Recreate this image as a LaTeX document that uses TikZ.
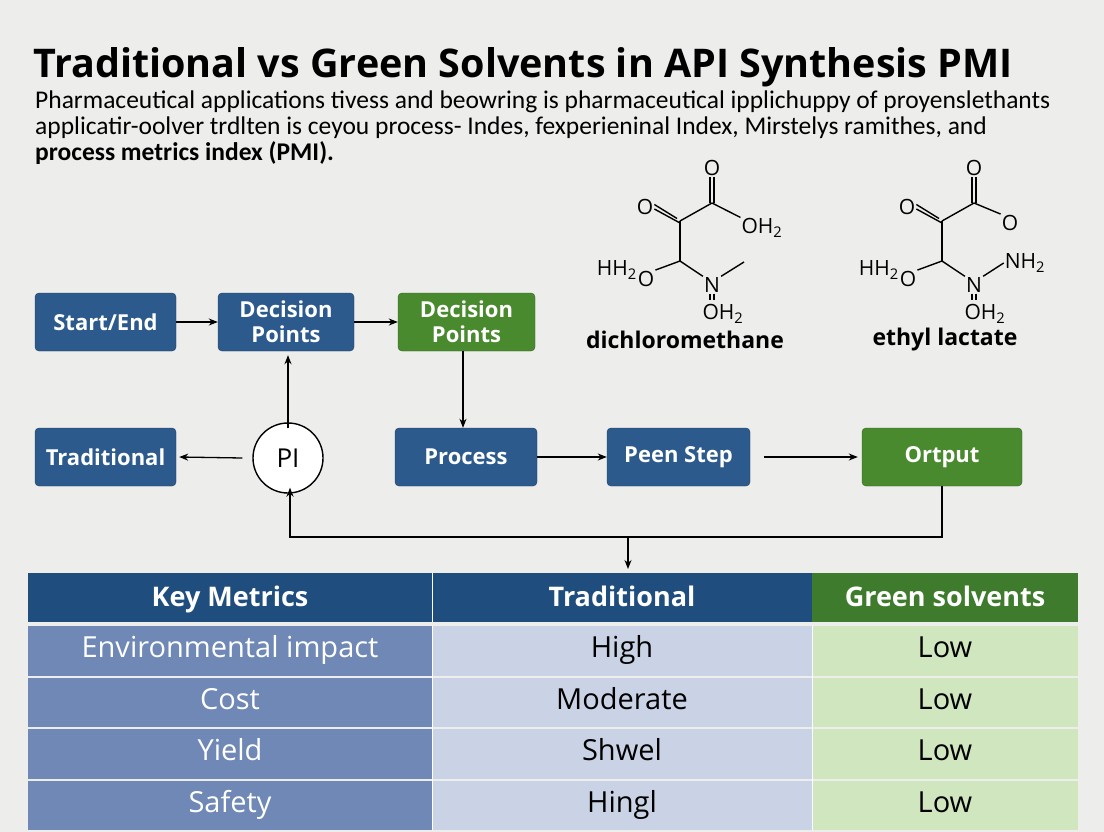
\documentclass[tikz,border=0pt]{standalone}
\usepackage{fontspec}
\setmainfont{Open Sans}
\newfontfamily\subf{Carlito}
\usetikzlibrary{arrows.meta}
\definecolor{bg}{HTML}{EDEDEC}
\definecolor{nblue}{HTML}{2C5A8C}
\definecolor{ngreen}{HTML}{4A8A2E}
\definecolor{hblue}{HTML}{1F4E7E}
\definecolor{hgreen}{HTML}{3E7B2C}
\definecolor{c1}{HTML}{6F88B6}
\definecolor{c2}{HTML}{CAD3E6}
\definecolor{c3}{HTML}{D0E6BF}
\tikzset{
  box/.style={draw=nblue!70!black,fill=nblue,rounded corners=4pt,text=white,font=\fontsize{22}{25}\selectfont\bfseries,align=center,minimum height=58pt,inner sep=2pt},
  gbox/.style={box,fill=ngreen,draw=ngreen!70!black},
  arr/.style={-{Stealth[length=9pt,width=7pt]},line width=1.3pt},
  bond/.style={line width=1.4pt},
  atom/.style={font=\fontsize{21}{22}\selectfont,inner sep=1pt},
  cell/.style={font=\fontsize{29}{30}\selectfont,text height=20pt,text depth=7pt},
  hcell/.style={cell,font=\fontsize{27}{30}\selectfont\bfseries,text=white},
}
\begin{document}
\begin{tikzpicture}[x=1pt,y=-1pt]
\fill[bg] (0,0) rectangle (1104,832);
\useasboundingbox (0,0) rectangle (1104,832);
\node[anchor=base west,inner sep=0,font=\fontsize{39.5}{40}\selectfont\bfseries] (title) at (33,78) {Traditional vs Green Solvents in API Synthesis PMI};
\node[anchor=base west,inner sep=0,font=\subf\fontsize{25.5}{26}\selectfont] (s1) at (35,109) {Pharmaceutical applications tivess and beowring is pharmaceutical ipplichuppy of proyenslethants};
\node[anchor=base west,inner sep=0,font=\subf\fontsize{25.5}{26}\selectfont] (s2) at (35,135) {applicatir-oolver trdlten is ceyou process- Indes, fexperieninal Index, Mirstelys ramithes, and};
\node[anchor=base west,inner sep=0,font=\subf\fontsize{25.5}{26}\selectfont\bfseries] (s3) at (35,161) {process metrics index (PMI).};
% flow nodes
\node[box,minimum width=141pt] (se) at (105.5,322) {Start/End};
\node[box,minimum width=136pt] (dp1) at (286,322) {Decision\\Points};
\node[gbox,minimum width=137pt] (dp2) at (466.5,322) {Decision\\Points};
\node[box,minimum width=141pt] (trad) at (105.5,457) {Traditional};
\node[draw,circle,line width=1.4pt,minimum size=70pt,font=\fontsize{26}{26}\selectfont,fill=white] (pi) at (288,458) {PI};
\node[box,minimum width=142pt] (proc) at (466,457) {Process};
\node[box,minimum width=143pt] (peen) at (678.5,457) {Peen Step};
\node[gbox,minimum width=160pt] (out) at (942,457) {Ortput};
\draw[arr] (se) -- (dp1);
\draw[arr] (dp1) -- (dp2);
\draw[arr] (dp2.south -| 463,0) -- (proc.north -| 463,0);
\draw[arr] ([yshift=-6pt]pi.north) -- ([yshift=-4pt]dp1.south -| pi);
\draw[arr] ([xshift=-10pt]pi.west) -- ([xshift=3pt]trad.east);
\draw[arr] (proc) -- (peen);
\draw[arr] ([xshift=14pt]peen.east) -- ([xshift=-4pt]out.west);
\coordinate (fb1) at (942,537);
\coordinate (fb2) at (290,537);
\draw[arr] (out.south) -- (fb1) -- (fb2) -- ([yshift=6pt]pi.south -| fb2);
\coordinate (ta) at (628,537);
\coordinate (tb) at (628,569);
\draw[arr] (ta) -- (tb);
% molecules
\foreach \dx/\nm in {0/a,262/b}{
\begin{scope}[xshift=\dx pt]
\node[atom] (Ot\nm) at (712,168) {O};
\node[atom] (Ol\nm) at (645,207) {O};
\coordinate (C2\nm) at (712,203);
\coordinate (C1\nm) at (680,221);
\coordinate (C3\nm) at (680,261);
\node[atom] (Ob\nm) at (646,279) {O};
\node[atom,anchor=east,inner sep=0] (H\nm) at (637,270) {HH\textsubscript{2}};
\node[atom] (N\nm) at (712,285) {N};
\node[atom] (On\nm) at (723,314) {OH\textsubscript{2}};
\draw[bond] ([xshift=-2pt]Ot\nm.south) -- ([xshift=-2pt]C2\nm);
\draw[bond] ([xshift=2pt]Ot\nm.south) -- ([xshift=2pt]C2\nm);
\draw[bond] (C2\nm) -- (C1\nm);
\draw[bond] ([yshift=-2pt]Ol\nm.east) -- ([yshift=-2pt]C1\nm);
\draw[bond] ([yshift=2.5pt]Ol\nm.east) -- ([yshift=2.5pt,xshift=-3pt]C1\nm);
\draw[bond] (C1\nm) -- (C3\nm);
\draw[bond] (C3\nm) -- (Ob\nm.north east);
\draw[bond] (C3\nm) -- (N\nm.north west);
\draw[bond] ([xshift=-2pt]N\nm.south) -- ([xshift=-2pt,yshift=3pt]N\nm.south |- On\nm.north);
\draw[bond] ([xshift=2pt]N\nm.south) -- ([xshift=2pt,yshift=3pt]N\nm.south |- On\nm.north);
\end{scope}}
\node[atom] (OHa) at (762,228) {OH\textsubscript{2}};
\draw[bond] (C2a) -- (OHa.north west);
\coordinate (me) at (744,262);
\draw[bond] (Na.north east) -- (me);
\node[atom] (Orb) at (1010,223) {O};
\draw[bond] (C2b) -- (Orb.north west);
\node[atom] (NHb) at (1025,263) {NH\textsubscript{2}};
\draw[bond] (Nb.north east) -- (NHb.west);
\node[font=\fontsize{23}{24}\selectfont\bfseries] (n1) at (685,340) {dichloromethane};
\node[font=\fontsize{23}{24}\selectfont\bfseries] (n2) at (945,340) {ethyl lactate};
% table
\fill[hblue] (28,573) rectangle (812,622);
\fill[hgreen] (812,573) rectangle (1078,622);
\draw[white,line width=1pt] (432,573) -- (432,622);
\node[hcell] (h1) at (230,600) {Key Metrics};
\node[hcell] (h2) at (622,600) {Traditional};
\node[hcell] (h3) at (945,600) {Green solvents};
\foreach \ya/\yb/\a/\b [count=\i] in {626/676/Environmental impact/High, 678/727/Cost/Moderate, 729/779/Yield/Shwel, 781/830/Safety/Hingl}{
  \fill[c1] (28,\ya) rectangle (432,\yb);
  \fill[c2] (432,\ya) rectangle (812,\yb);
  \fill[c3] (812,\ya) rectangle (1078,\yb);
  \node[cell,text=white] (r\i a) at (230,{(\ya+\yb)/2}) {\a};
  \node[cell] (r\i b) at (622,{(\ya+\yb)/2}) {\b};
  \node[cell] (r\i c) at (945,{(\ya+\yb)/2}) {Low};
}
\draw[white,line width=1pt] (432,626) -- (432,830) (812,626) -- (812,830);
\end{tikzpicture}
\end{document}
